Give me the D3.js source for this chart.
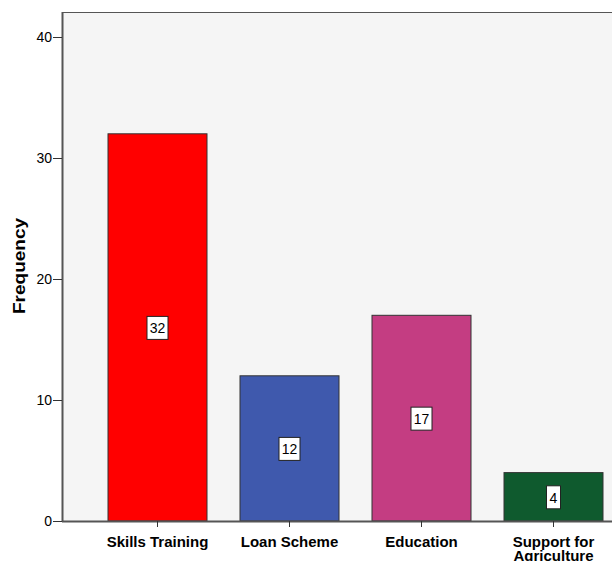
<!DOCTYPE html>
<html><head><meta charset="utf-8">
<script src="https://cdn.jsdelivr.net/npm/d3@7"></script>
<style>body{margin:0;background:#fff}svg{display:block}</style>
</head><body>
<svg id="c" width="612" height="561"></svg>
<script>
const categories = ["Skills Training", "Loan Scheme", "Education", "Support for Agriculture"];
const labelLines = [["Skills Training"], ["Loan Scheme"], ["Education"], ["Support for", "Agriculture"]];
const values = [32, 12, 17, 4];
const colors = ["#ff0000", "#3f59ad", "#c43d82", "#0f5a2e"];
const yTicks = [0, 10, 20, 30, 40];

(function () {
const FONT = "Arial, 'Liberation Sans', sans-serif";
const svg = d3.select("#c");
const pLeft = 62, pTop = 12, pBottom = 521, pRight = 640;

const y = d3.scaleLinear().domain([0, 40]).range([pBottom, 37]);
const x = d3.scaleBand().domain(categories).range([pLeft, 649]).paddingInner(0.25).paddingOuter(46/132);

svg.append("rect").attr("x", pLeft).attr("y", pTop).attr("width", pRight - pLeft).attr("height", pBottom - pTop)
  .attr("fill", "#f5f5f5");
svg.append("line").attr("x1", pLeft).attr("x2", pRight).attr("y1", pTop + 0.5).attr("y2", pTop + 0.5)
  .attr("stroke", "#555").attr("stroke-width", 1);

svg.selectAll("rect.bar").data(values).enter().append("rect").attr("class", "bar")
  .attr("x", (d, i) => x(categories[i]))
  .attr("y", d => y(d))
  .attr("width", x.bandwidth())
  .attr("height", d => y(0) - y(d))
  .attr("fill", (d, i) => colors[i])
  .attr("stroke", "#333").attr("stroke-width", 1);

const yAxis = svg.append("g").attr("transform", `translate(${pLeft},0)`)
  .call(d3.axisLeft(y).tickValues(yTicks).tickSize(9).tickPadding(1).tickFormat(d3.format("d")));
yAxis.select(".domain").attr("d", `M0.5,${pTop}V${pBottom}`).attr("stroke", "#555").attr("stroke-width", 2);
yAxis.selectAll(".tick line").attr("stroke", "#333");
yAxis.selectAll(".tick text").attr("font-family", FONT).attr("font-size", 14).attr("fill", "#000");

const xAxis = svg.append("g").attr("transform", `translate(0,${pBottom})`)
  .call(d3.axisBottom(x).tickSize(6).tickFormat(""));
xAxis.select(".domain").attr("d", `M${pLeft},0.5H${pRight}`).attr("stroke", "#555").attr("stroke-width", 2);
xAxis.selectAll(".tick line").attr("stroke", "#333");
xAxis.selectAll(".tick").each(function(d, i) {
  const t = d3.select(this).append("text").attr("fill", "#000")
    .attr("font-family", FONT).attr("font-size", 15).attr("font-weight", "bold")
    .attr("text-anchor", "middle");
  labelLines[i].forEach((ln, j) => t.append("tspan").attr("x", 0).attr("y", 25.5 + j * 14.5).text(ln));
});

const lab = svg.selectAll("g.lab").data(values).enter().append("g").attr("class", "lab")
  .attr("transform", (d, i) => `translate(${x(categories[i]) + x.bandwidth() / 2},${(y(d) + y(0)) / 2 + 1})`);
lab.each(function(d) {
  const g = d3.select(this);
  const w = String(d).length > 1 ? 21 : 14;
  g.append("rect").attr("x", -w / 2).attr("y", -12).attr("width", w).attr("height", 23)
    .attr("fill", "#fff").attr("stroke", "#222").attr("stroke-width", 1);
  g.append("text").attr("text-anchor", "middle").attr("y", 5)
    .attr("font-family", FONT).attr("font-size", 14).attr("fill", "#000").text(d);
});

svg.append("text").attr("transform", "translate(25,266) rotate(-90)")
  .attr("text-anchor", "middle").attr("font-family", FONT)
  .attr("font-size", 16).attr("font-weight", "bold")
  .attr("textLength", 96).attr("lengthAdjust", "spacingAndGlyphs").text("Frequency");
})();
</script>
</body></html>
